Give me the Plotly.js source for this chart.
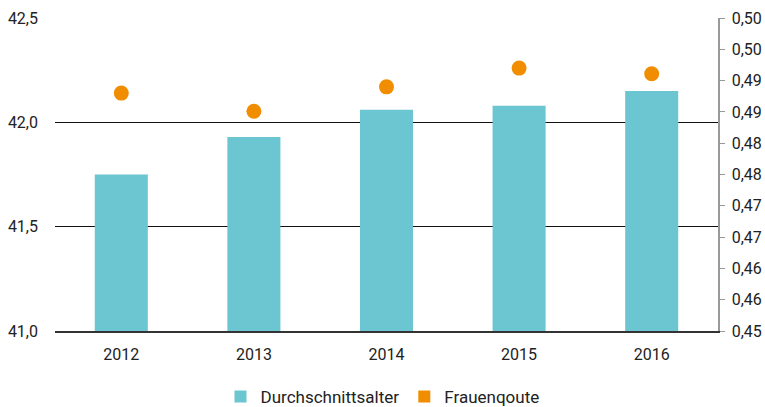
<!DOCTYPE html>
<html><head><meta charset="utf-8">
<script src="https://cdn.plot.ly/plotly-3.0.1.min.js"></script>
<style>body{margin:0;padding:0;background:#fff}#c{width:765px;height:407px}</style>
</head><body><div id="c"></div>
<script>
const years = ['2012','2013','2014','2015','2016'];
const durchschnittsalter = [41.75, 41.93, 42.06, 42.08, 42.15];
const frauenquote = [0.488, 0.4851, 0.489, 0.492, 0.4911];
const leftTickVals = [41.0, 41.5, 42.0, 42.5];
const leftTickText = ['41,0','41,5','42,0','42,5'];
const rightTickVals = [0.45,0.455,0.46,0.465,0.47,0.475,0.48,0.485,0.49,0.495,0.50];
const rightTickText = ['0,45','0,46','0,46','0,47','0,47','0,48','0,48','0,49','0,49','0,50','0,50'];

const font = "Roboto, sans-serif";
const data = [
  {type:'bar', x:years, y:durchschnittsalter, name:'Durchschnittsalter', marker:{color:'#6CC6D1'}, width:0.4, yaxis:'y'},
  {type:'scatter', mode:'markers', x:years, y:frauenquote, name:'Frauenqoute', marker:{color:'#F18D00', size:15}, yaxis:'y2', showlegend:false},
  {type:'bar', x:[years[0]], y:[null], name:'Frauenqoute', marker:{color:'#F18D00'}, width:0.4, yaxis:'y2', showlegend:true}
];
const layout = {
  width:765, height:407,
  margin:{l:55, r:47, t:18, b:76},
  paper_bgcolor:'#fff', plot_bgcolor:'#fff',
  font:{family:font, size:16, color:'#222'},
  showlegend:true,
  barmode:'overlay',
  legend:{orientation:'h', x:0.5, xanchor:'center', xref:'container', yref:'container', y:0.025, yanchor:'middle', font:{size:17}, itemwidth:30},
  xaxis:{type:'category', showgrid:false, showline:true, linecolor:'#333', linewidth:1.5, ticks:'', ticklabelstandoff:8, tickfont:{size:16}},
  yaxis:{range:[41,42.5], tickvals:leftTickVals, ticktext:leftTickText, showgrid:true, gridcolor:'#111', gridwidth:1, zeroline:false, showline:false, ticks:'', ticklabelstandoff:16, tickfont:{size:16}},
  yaxis2:{overlaying:'y', side:'right', range:[0.45,0.50], tickvals:rightTickVals, ticktext:rightTickText, showgrid:false, zeroline:false, showline:true, linecolor:'#999', linewidth:1.5, ticks:'outside', ticklen:5, tickcolor:'#999', ticklabelstandoff:4, tickfont:{size:16}}
};
Plotly.newPlot('c', data, layout, {staticPlot:true, displayModeBar:false});
</script></body></html>
